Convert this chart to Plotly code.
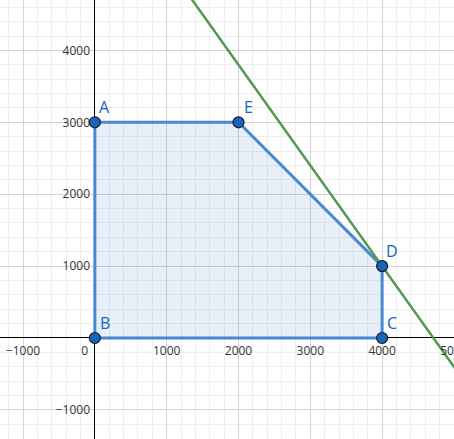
import plotly.graph_objects as go

# Vertices of the feasible region
point_names = ["A", "B", "C", "D", "E"]
point_x = [0, 0, 4000, 4000, 2000]
point_y = [3000, 0, 0, 1000, 3000]

# Polygon order A -> E -> D -> C -> B
poly_order = ["A", "E", "D", "C", "B", "A"]

# Objective / constraint line: a*x + b*y = c
line_a, line_b, line_c = 7, 5, 33000
line_x = [1000, 5200]

# Axis ticks
x_tickvals = [-1000, 0, 1000, 2000, 3000, 4000, 5000]
x_ticktext = ["\u22121000", "0\u2007\u2007\u2007", "1000", "2000", "3000", "4000", "5000"]
y_tickvals = [-1000, 1000, 2000, 3000, 4000]
y_ticktext = ["\u22121000", "1000", "2000", "3000", "4000"]

x_range = [-1321, 5001]
y_range = [-1405, 4701]

idx = {n: i for i, n in enumerate(point_names)}
px_ = [point_x[idx[n]] for n in poly_order]
py_ = [point_y[idx[n]] for n in poly_order]
ly = [(line_c - line_a * x) / line_b for x in line_x]

fig = go.Figure()
fig.add_trace(go.Scatter(x=px_, y=py_, mode="lines", fill="toself",
                         fillcolor="rgba(21,101,192,0.10)",
                         line=dict(color="#4a88d4", width=3), hoverinfo="skip"))
fig.add_trace(go.Scatter(x=line_x, y=ly, mode="lines",
                         line=dict(color="#509a50", width=2.5), hoverinfo="skip"))
fig.add_trace(go.Scatter(x=point_x, y=point_y, mode="markers",
                         marker=dict(size=11, color="#1565c0",
                                     line=dict(color="#1a1a1a", width=1.2)),
                         hoverinfo="skip", cliponaxis=False))

for name, x, y in zip(point_names, point_x, point_y):
    fig.add_annotation(x=x, y=y, text=name, showarrow=False,
                       xanchor="center", yanchor="middle", xshift=10, yshift=15,
                       font=dict(family="Open Sans", size=16, color="#1565c0"))

fig.update_layout(
    width=454, height=439, margin=dict(l=0, r=0, t=0, b=0, autoexpand=False),
    paper_bgcolor="white", plot_bgcolor="white", showlegend=False,
    font=dict(family="Open Sans", size=12, color="#333333"),
    xaxis=dict(range=x_range, tickmode="array", tickvals=x_tickvals, ticktext=x_ticktext,
               anchor="free", position=(439 - 338) / 439, showline=False, automargin=False,
               ticks="", ticklabelstandoff=4, ticklabeloverflow="allow",
               showgrid=True, gridcolor="#d3d3d3", gridwidth=1.3,
               zeroline=True, zerolinecolor="#000000", zerolinewidth=1,
               minor=dict(tickmode="linear", tick0=0, dtick=200, showgrid=True,
                          gridcolor="#eeeeee", gridwidth=1)),
    yaxis=dict(range=y_range, tickmode="array", tickvals=y_tickvals, ticktext=y_ticktext,
               anchor="free", position=95 / 454, showline=False, automargin=False,
               ticks="", ticklabelstandoff=5, ticklabeloverflow="allow",
               showgrid=True, gridcolor="#d3d3d3", gridwidth=1.3,
               zeroline=True, zerolinecolor="#000000", zerolinewidth=1,
               minor=dict(tickmode="linear", tick0=0, dtick=200, showgrid=True,
                          gridcolor="#eeeeee", gridwidth=1)),
)

fig.write_html("out.html", config={"displayModeBar": False},
               post_script="document.body.style.margin='0';")
